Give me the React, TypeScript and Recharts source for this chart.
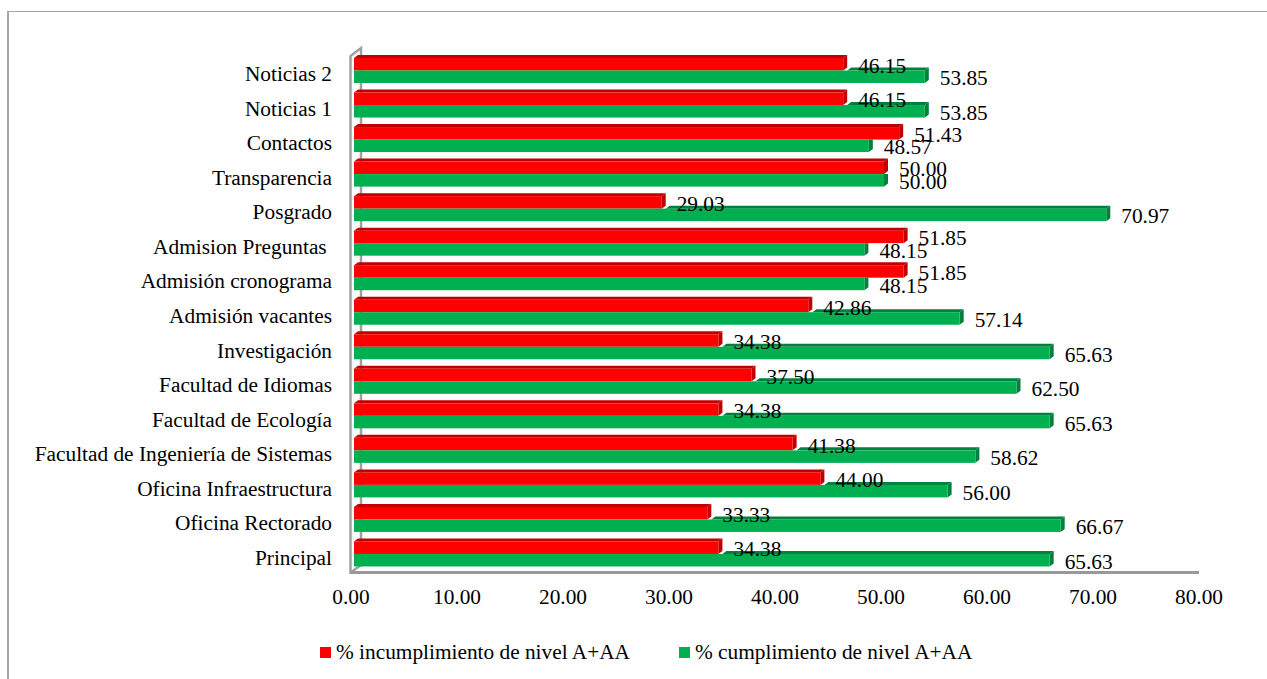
import { Bar, BarChart, LabelList, Legend, XAxis, YAxis } from "recharts"

const pages = [
  "Noticias 2",
  "Noticias 1",
  "Contactos",
  "Transparencia",
  "Posgrado",
  "Admision Preguntas ",
  "Admisión cronograma",
  "Admisión vacantes",
  "Investigación",
  "Facultad de Idiomas",
  "Facultad de Ecología",
  "Facultad de Ingeniería de Sistemas",
  "Oficina Infraestructura",
  "Oficina Rectorado",
  "Principal",
]
const incumplimiento = [46.15, 46.15, 51.43, 50, 29.03, 51.85, 51.85, 42.86, 34.38, 37.5, 34.38, 41.38, 44, 33.33, 34.38]
const cumplimiento = [53.85, 53.85, 48.57, 50, 70.97, 48.15, 48.15, 57.14, 65.63, 62.5, 65.63, 58.62, 56, 66.67, 65.63]
const xTicks = [0, 10, 20, 30, 40, 50, 60, 70, 80]

const data = pages.map((page, i) => ({
  page,
  incumplimiento: incumplimiento[i],
  cumplimiento: cumplimiento[i],
}))

const FONT = '"Liberation Serif", "Times New Roman", serif'
const FONT_SIZE = 21.33
const DEPTH_X = 4
const DEPTH_Y = 3

// front face plus top and side faces, the office-style 3d bar
function Bar3D({ x, y, width, height, fill, dark, hideTopUntil }: any) {
  const right = x + width
  const bandStart = hideTopUntil != null ? Math.min(hideTopUntil, right) : x
  const showBand = hideTopUntil == null || hideTopUntil < right
  const sideTop = showBand ? y - DEPTH_Y : y
  return (
    <g>
      {showBand && (
        <polygon
          points={`${bandStart},${y} ${bandStart + DEPTH_X},${y - DEPTH_Y} ${right + DEPTH_X},${y - DEPTH_Y} ${right},${y}`}
          fill={dark}
        />
      )}
      <polygon
        points={`${right},${y} ${right + DEPTH_X},${sideTop} ${right + DEPTH_X},${y + height - DEPTH_Y} ${right},${y + height}`}
        fill={dark}
      />
      <rect x={x} y={y} width={width} height={height} fill={fill} />
    </g>
  )
}

function RedBar(props: any) {
  return <Bar3D {...props} fill="#ff0000" dark="#c00000" />
}

function GreenBar(props: any) {
  const { width, value, payload } = props
  const val = Array.isArray(value) ? value[1] : value
  const redEnd = props.x + (width / val) * payload.incumplimiento + DEPTH_X
  return <Bar3D {...props} fill="#00b050" dark="#00803c" hideTopUntil={redEnd} />
}

function PageTick({ x, y, payload }: any) {
  return (
    <text x={x} y={y + 11} textAnchor="end" fontSize={FONT_SIZE} fontFamily={FONT} fill="#000" style={{ whiteSpace: "pre" }}>
      {payload.value}
    </text>
  )
}

function ChartLegend({ payload }: any) {
  return (
    <div style={{ display: "flex", fontFamily: FONT, fontSize: FONT_SIZE, color: "#000", lineHeight: "24px" }}>
      {(payload ?? []).map((entry: any) => (
        <div key={entry.value} style={{ display: "flex", alignItems: "center", marginRight: 49 }}>
          <span style={{ width: 11, height: 11, background: entry.color, marginRight: 5 }} />
          <span style={{ whiteSpace: "pre" }}>{entry.value}</span>
        </div>
      ))}
    </div>
  )
}

const fmt = (v: any) => Number(v).toFixed(2)
const labelStyle = { fontFamily: FONT, fontSize: FONT_SIZE, fill: "#000" }

export default function App() {
  return (
    <div style={{ position: "absolute", left: 0, top: 0, width: 1267, height: 679, background: "#fff", overflow: "hidden" }}>
      <div style={{ position: "absolute", left: 7, top: 11, width: 1260, height: 668, borderTop: "1px solid #a6a6a6", borderLeft: "2px solid #a6a6a6" }} />
      <svg width={1267} height={679} style={{ position: "absolute", left: 0, top: 0 }}>
        <path d="M350.5 572.5 L350.5 56 L361 48 L361 565 L350.5 572.5" fill="none" stroke="#a0a0a0" strokeWidth={2.5} />
        <path d="M349.5 572.5 L1199 572.5" fill="none" stroke="#999" strokeWidth={3} />
      </svg>
      <div style={{ position: "absolute", left: 0, top: 0 }}>
        <BarChart
          width={1267}
          height={679}
          data={data}
          layout="vertical"
          barSize={12.5}
          barGap={0}
          margin={{ top: 29, right: 65, bottom: 68, left: 0 }}
        >
          <XAxis
            type="number"
            domain={[0, 80]}
            ticks={xTicks}
            tickFormatter={fmt}
            axisLine={false}
            tickLine={false}
            tickSize={0}
            tickMargin={18}
            height={40}
            interval={0}
            tick={{ fontFamily: FONT, fontSize: FONT_SIZE, fill: "#000", dx: -3 }}
          />
          <YAxis
            type="category"
            dataKey="page"
            width={354}
            axisLine={false}
            tickLine={false}
            tickSize={0}
            tickMargin={22}
            interval={0}
            tick={<PageTick />}
          />
          <Legend
            verticalAlign="top"
            itemSorter={null}
            content={<ChartLegend />}
            wrapperStyle={{ position: "absolute", left: 320, top: 640, width: 800 }}
          />
          <Bar
            dataKey="incumplimiento"
            name="% incumplimiento de nivel A+AA"
            fill="#ff0000"
            shape={<RedBar />}
            isAnimationActive={false}
          >
            <LabelList dataKey="incumplimiento" position="right" offset={15} dy={1} formatter={fmt} style={labelStyle} />
          </Bar>
          <Bar
            dataKey="cumplimiento"
            name="% cumplimiento de nivel A+AA"
            fill="#00b050"
            shape={<GreenBar />}
            isAnimationActive={false}
          >
            <LabelList dataKey="cumplimiento" position="right" offset={15} dy={1} formatter={fmt} style={labelStyle} />
          </Bar>
        </BarChart>
      </div>
    </div>
  )
}
